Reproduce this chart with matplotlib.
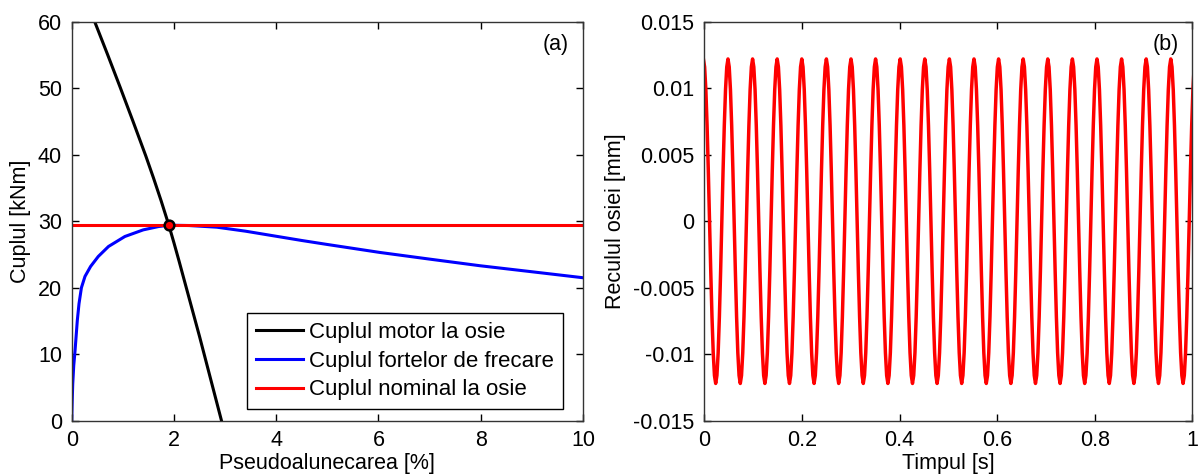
import matplotlib
matplotlib.use('Agg')
import matplotlib.pyplot as plt
from matplotlib.ticker import FuncFormatter
import numpy as np

plt.rcParams['font.family'] = ['Liberation Sans', 'DejaVu Sans']
plt.rcParams['font.size'] = 15.5
plt.rcParams['axes.unicode_minus'] = False

# (a) cuplul motor / cuplul de aderenta vs pseudoalunecare
s_motor = [0.45, 0.7, 0.95, 1.2, 1.45, 1.6, 1.75, 1.9, 2.0, 2.1, 2.5, 2.93]
M_motor = [60.0, 55.1, 50.1, 45.0, 39.8, 36.5, 33.05, 29.4, 26.75, 24.0, 12.68, 0.0]

s_frecare = [0.0, 0.01, 0.02, 0.04, 0.065, 0.11, 0.143, 0.19, 0.26, 0.37, 0.52,
             0.72, 1.04, 1.4, 1.7, 1.9, 2.3, 2.84, 3.4, 3.95, 4.5, 5.0,
             6.03, 7.0, 7.99, 9.0, 10.0]
M_frecare = [0.0, 3.0, 5.5, 8.3, 10.5, 15.1, 17.6, 20.0, 21.7, 23.2, 24.7,
             26.2, 27.7, 28.7, 29.2, 29.4, 29.35, 29.1, 28.5, 27.8, 27.1, 26.5,
             25.3, 24.3, 23.3, 22.4, 21.5]

M_nominal = 29.4
s_punct = 1.9

# (b) reculul osiei - o perioada de oscilatie [mm]
recul_perioada = [0.0122, 0.0116, 0.0099, 0.0072, 0.0038, 0.0, -0.0038, -0.0072,
                  -0.0099, -0.0116, -0.0122, -0.0116, -0.0099, -0.0072, -0.0038,
                  0.0, 0.0038, 0.0072, 0.0099, 0.0116]
perioada = 0.0504
t0 = -0.0018
nr_perioade = 21

recul = np.tile(recul_perioada, nr_perioade)
t = t0 + np.arange(len(recul)) * perioada / len(recul_perioada)

fig = plt.figure(figsize=(12.01, 4.75), dpi=100)
ax1 = fig.add_axes([0.0597, 0.1143, 0.4257, 0.8400])
ax2 = fig.add_axes([0.5864, 0.1143, 0.4064, 0.8400])

ax1.plot(s_motor, M_motor, color='k', lw=2.2, label='Cuplul motor la osie')
ax1.plot(s_frecare, M_frecare, color=(0, 0, 1), lw=2.2, label='Cuplul fortelor de frecare')
ax1.axhline(M_nominal, color=(1, 0, 0), lw=2.2, label='Cuplul nominal la osie')
ax1.plot([s_punct], [M_nominal], 'o', ms=7, mfc=(1, 0, 0), mec='k', mew=1.8)

ax1.set_xlim(0, 10)
ax1.set_ylim(0, 60)
ax1.set_xticks([0, 2, 4, 6, 8, 10])
ax1.set_yticks([0, 10, 20, 30, 40, 50, 60])
ax1.set_xlabel('Pseudoalunecarea [%]', labelpad=1)
ax1.set_ylabel('Cuplul [kNm]', labelpad=5)
ax1.text(0.947, 0.944, '(a)', transform=ax1.transAxes, ha='center', va='center')
leg = ax1.legend(loc='lower right', bbox_to_anchor=(0.961, 0.0286), borderaxespad=0,
                 fancybox=False, edgecolor='k', framealpha=1, handlelength=2.1,
                 handletextpad=0.3, labelspacing=0.35, borderpad=0.4, fontsize=16)
leg.get_frame().set_linewidth(1.0)

ax2.plot(t, recul, color=(1, 0, 0), lw=2.5)
ax2.set_xlim(0, 1)
ax2.set_ylim(-0.015, 0.015)
ax2.set_xticks([0, 0.2, 0.4, 0.6, 0.8, 1])
ax2.set_yticks([-0.015, -0.01, -0.005, 0, 0.005, 0.01, 0.015])
ax2.xaxis.set_major_formatter(FuncFormatter(lambda v, p: '%g' % v))
ax2.yaxis.set_major_formatter(FuncFormatter(lambda v, p: '%g' % v))
ax2.set_xlabel('Timpul [s]', labelpad=1)
ax2.set_ylabel('Reculul osiei [mm]', labelpad=5)
ax2.text(0.946, 0.944, '(b)', transform=ax2.transAxes, ha='center', va='center')

for ax in (ax1, ax2):
    ax.tick_params(direction='in', top=True, right=True, length=5, width=1, pad=7)
    for sp in ax.spines.values():
        sp.set_linewidth(1.0)
        sp.set_color('#333333')

fig.savefig('out.png', dpi=100)
